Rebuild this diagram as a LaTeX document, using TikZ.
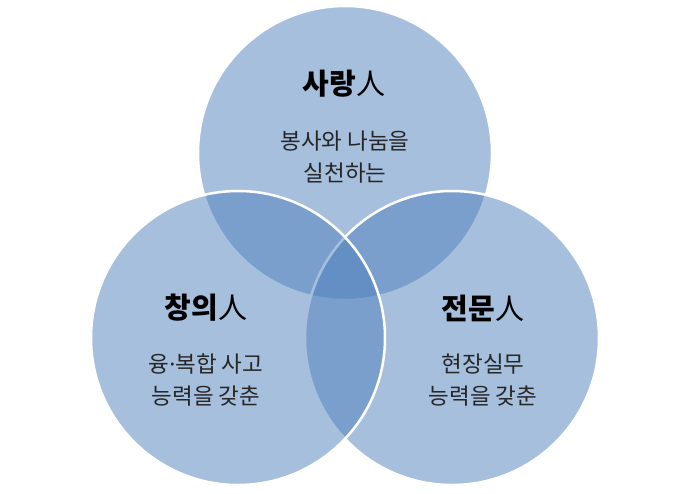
\documentclass[tikz,border=0pt]{standalone}
\usepackage{fontspec}
\setmainfont{Noto Sans CJK KR}
\newfontfamily\krbold{Noto Sans CJK KR Bold}
\newfontfamily\latinsans{Noto Sans}
\definecolor{vblue}{HTML}{4F81BD}
\newcommand{\mdot}{{\latinsans ·}}
\newcommand{\hanin}{{\mdseries 人}}
\begin{document}
\begin{tikzpicture}[x=1pt,y=-1pt,
  venn/.style={circle,minimum size=294pt,inner sep=0pt,fill=vblue,fill opacity=0.5,draw=white,line width=2.5pt,draw opacity=1},
  ttl/.style={font=\fontsize{29}{34}\selectfont\bfseries,text=black},
  sub/.style={font=\fontsize{22.5}{32}\selectfont,text=black!85,align=center}]
\useasboundingbox (0,0) rectangle (690,493);
\fill[white] (0,0) rectangle (690,493);
\node[venn] (top) at (345,153) {};
\node[venn] (right) at (452,338) {};
\node[venn] (left) at (238,338) {};
\node[ttl] (t1) at (344,84) {사랑\hanin};
\node[sub] (s1) at (345,157) {봉사와 나눔을\\실천하는};
\node[ttl] (t2) at (206,308) {창의\hanin};
\node[sub] (s2) at (206,380) {융\mdot 복합 사고\\능력을 갖춘};
\node[ttl] (t3) at (483,308) {전문\hanin};
\node[sub] (s3) at (483,380) {현장실무\\능력을 갖춘};
\end{tikzpicture}
\end{document}
